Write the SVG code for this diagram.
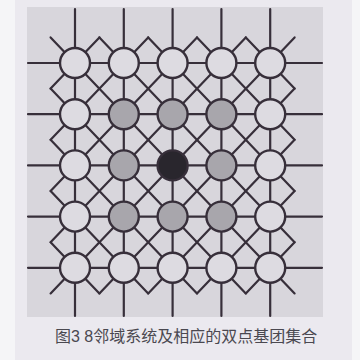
<svg xmlns="http://www.w3.org/2000/svg" width="360" height="360" viewBox="0 0 360 360">
<style>
.ln{stroke:#372f3a;stroke-width:2.2;fill:none;stroke-linecap:round;stroke-linejoin:round}
.nd{stroke:#372f3a;stroke-width:2.4}
.w{fill:#dddbe1}
.g{fill:#a8a6ac}
.k{fill:#29262d}
.cap{font-family:"Liberation Sans","Noto Sans CJK SC",sans-serif;font-size:16px;fill:#4a4850}
</style>
<rect x="0" y="0" width="360" height="360" fill="#ebe9ef"/>
<rect x="0" y="0" width="15" height="360" fill="#f5f5f7"/>
<rect x="352" y="0" width="8" height="360" fill="#f5f5f7"/>
<rect x="27" y="7" width="296" height="310" fill="#d8d6dc"/>
<g id="connectors" class="ln">
<path d="M28 63H322M28 114.2H322M28 165.4H322M28 216.6H322M28 267.8H322"/>
<path d="M75 9V316M123.8 9V316M172.6 9V316M221.4 9V316M270.2 9V316"/>
<path d="M50.6 37.4L294.6 293.4M99.4 37.4L294.6 242.2M148.2 37.4L294.6 191M197 37.4L294.6 139.8M245.8 37.4L294.6 88.6M50.6 88.6L245.8 293.4M50.6 139.8L197 293.4M50.6 191L148.2 293.4M50.6 242.2L99.4 293.4"/>
<path d="M99.4 37.4L50.6 88.6M148.2 37.4L50.6 139.8M197 37.4L50.6 191M245.8 37.4L50.6 242.2M294.6 37.4L50.6 293.4M294.6 88.6L99.4 293.4M294.6 139.8L148.2 293.4M294.6 191L197 293.4M294.6 242.2L245.8 293.4"/>
</g>
<g id="n00"><circle class="nd w" cx="75" cy="63" r="15"/></g>
<g id="n01"><circle class="nd w" cx="123.8" cy="63" r="15"/></g>
<g id="n02"><circle class="nd w" cx="172.6" cy="63" r="15"/></g>
<g id="n03"><circle class="nd w" cx="221.4" cy="63" r="15"/></g>
<g id="n04"><circle class="nd w" cx="270.2" cy="63" r="15"/></g>
<g id="n10"><circle class="nd w" cx="75" cy="114.2" r="15"/></g>
<g id="n11"><circle class="nd g" cx="123.8" cy="114.2" r="15"/></g>
<g id="n12"><circle class="nd g" cx="172.6" cy="114.2" r="15"/></g>
<g id="n13"><circle class="nd g" cx="221.4" cy="114.2" r="15"/></g>
<g id="n14"><circle class="nd w" cx="270.2" cy="114.2" r="15"/></g>
<g id="n20"><circle class="nd w" cx="75" cy="165.4" r="15"/></g>
<g id="n21"><circle class="nd g" cx="123.8" cy="165.4" r="15"/></g>
<g id="n22"><circle class="nd k" cx="172.6" cy="165.4" r="15"/></g>
<g id="n23"><circle class="nd g" cx="221.4" cy="165.4" r="15"/></g>
<g id="n24"><circle class="nd w" cx="270.2" cy="165.4" r="15"/></g>
<g id="n30"><circle class="nd w" cx="75" cy="216.6" r="15"/></g>
<g id="n31"><circle class="nd g" cx="123.8" cy="216.6" r="15"/></g>
<g id="n32"><circle class="nd g" cx="172.6" cy="216.6" r="15"/></g>
<g id="n33"><circle class="nd g" cx="221.4" cy="216.6" r="15"/></g>
<g id="n34"><circle class="nd w" cx="270.2" cy="216.6" r="15"/></g>
<g id="n40"><circle class="nd w" cx="75" cy="267.8" r="15"/></g>
<g id="n41"><circle class="nd w" cx="123.8" cy="267.8" r="15"/></g>
<g id="n42"><circle class="nd w" cx="172.6" cy="267.8" r="15"/></g>
<g id="n43"><circle class="nd w" cx="221.4" cy="267.8" r="15"/></g>
<g id="n44"><circle class="nd w" cx="270.2" cy="267.8" r="15"/></g>
<text class="cap" x="55" y="342">图3 8邻域系统及相应的双点基团集合</text>
</svg>
